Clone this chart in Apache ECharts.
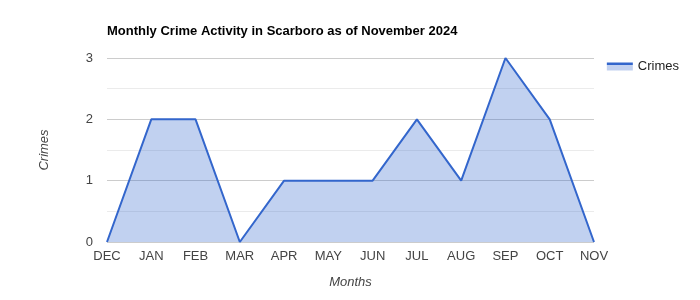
<!DOCTYPE html>
<html>
<head>
<meta charset="utf-8">
<script src="https://cdn.jsdelivr.net/npm/echarts@6/dist/echarts.min.js"></script>
<style>
html,body{margin:0;padding:0;background:#fff;}
#chart{width:700px;height:300px;}
</style>
</head>
<body>
<div id="chart"></div>
<script>
var months = ['DEC','JAN','FEB','MAR','APR','MAY','JUN','JUL','AUG','SEP','OCT','NOV'];
var crimes = [0,2,2,0,1,1,1,2,1,3,2,0];
var titleText = 'Monthly Crime Activity in Scarboro as of November 2024';
var seriesName = 'Crimes';

var chart = echarts.init(document.getElementById('chart'), null, {renderer:'canvas'});
var font = 'Arial, "Liberation Sans", sans-serif';
chart.setOption({
  animation:false,
  textStyle:{fontFamily:font},
  title:{
    text:titleText, left:102, top:20,
    textStyle:{fontSize:13, fontWeight:'bold', color:'#000', fontFamily:font}
  },
  legend:{
    data:[seriesName], right:16, top:55, orient:'vertical',
    itemWidth:26, itemHeight:8, itemGap:5,
    icon:'rect',
    itemStyle:{color:{type:'linear',x:0,y:0,x2:0,y2:1,colorStops:[
      {offset:0,color:'#3366cc'},{offset:0.28,color:'#3366cc'},
      {offset:0.28,color:'#c2d1f0'},{offset:1,color:'#c2d1f0'}]}},
    textStyle:{fontSize:13, color:'#222', fontFamily:font}
  },
  grid:{left:107, right:106, top:58, bottom:58},
  xAxis:{
    type:'category', data:months, boundaryGap:false,
    name:'Months', nameLocation:'middle', nameGap:34,
    nameTextStyle:{fontStyle:'italic', fontSize:13, color:'#444', fontFamily:font},
    axisLine:{show:false}, axisTick:{show:false},
    axisLabel:{color:'#444', fontSize:13, margin:8, fontFamily:font}
  },
  yAxis:{
    type:'value', min:0, max:3, interval:1,
    name:'Crimes', nameLocation:'middle', nameGap:56,
    nameTextStyle:{fontStyle:'italic', fontSize:13, color:'#444', fontFamily:font},
    axisLine:{show:false}, axisTick:{show:false},
    axisLabel:{color:'#444', fontSize:13, margin:14, fontFamily:font},
    splitLine:{lineStyle:{color:'#cccccc', width:1}},
    minorTick:{show:false, splitNumber:2},
    minorSplitLine:{show:true, lineStyle:{color:'#ebebeb', width:1}}
  },
  series:[{
    name:seriesName, type:'line', data:crimes,
    showSymbol:false, symbol:'none',
    lineStyle:{color:'#3366cc', width:2},
    itemStyle:{color:'#3366cc'},
    areaStyle:{color:'#3366cc', opacity:0.3}
  }]
});
</script>
</body>
</html>
